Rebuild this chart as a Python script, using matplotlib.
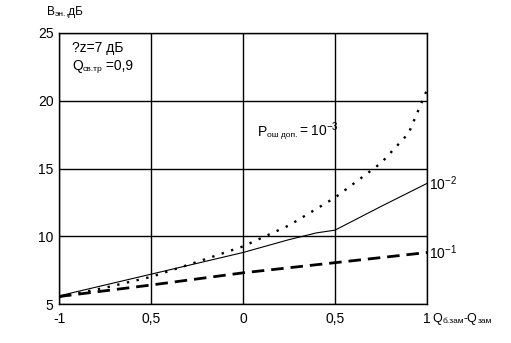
import numpy as np
import matplotlib
matplotlib.use("Agg")
from matplotlib import pyplot as plt

plt.rcParams['font.family'] = ['Liberation Sans', 'DejaVu Sans']
plt.rcParams['mathtext.fontset'] = 'custom'
plt.rcParams['mathtext.rm'] = 'Liberation Sans'

# Relative value Q_b.zam - Q_zam
x_pts = [-1, -0.75, -0.5, -0.25, 0, 0.25, 0.4, 0.5, 0.75, 1]
# P_osh.dop = 1e-3 (dotted)
x_dot = [-1, -0.75, -0.5, -0.25, 0, 0.25, 0.5, 0.75, 0.9, 1]
b_1e3 = [5.5, 6.2, 7.0, 8.1, 9.25, 10.8, 12.85, 15.4, 17.6, 20.8]
# P_osh.dop = 1e-2 (solid)
b_1e2 = [5.6, 6.4, 7.2, 8.0, 8.8, 9.75, 10.25, 10.45, 12.2, 13.9]
# P_osh.dop = 1e-1 (dashed)
x_dash = [-1, -0.5, 0, 0.5, 1]
b_1e1 = [5.55, 6.4, 7.3, 8.05, 8.8]

xticks = [-1, -0.5, 0, 0.5, 1]
xlabels = ['-1', '0,5', '0', '0,5', '1']
yticks = [5, 10, 15, 20, 25]


def chain(ax, parts, x, y):
    '''Write text pieces one after another, each with its own size.'''
    prev = None
    for s, size in parts:
        if prev is None:
            prev = ax.text(x, y, s, fontsize=size, transform=ax.transAxes,
                           ha='left', va='baseline')
        else:
            prev = ax.annotate(s, xy=(1, 0), xycoords=prev, fontsize=size,
                               ha='left', va='bottom')
    return prev


fig = plt.figure(figsize=(5.11, 3.43), dpi=100)
ax = fig.add_axes([59 / 511, 1 - 304 / 343, 368 / 511, 271 / 343])

ax.plot(x_dot, b_1e3, color='black', lw=1.7, linestyle=(0, (1, 3.2)))
ax.plot(x_pts, b_1e2, color='black', lw=0.8)
ax.plot(x_dash, b_1e1, color='black', lw=2.0, linestyle=(0, (4.5, 2.5)))

ax.set_xlim(-1, 1)
ax.set_ylim(5, 25)
ax.set_xticks(xticks)
ax.set_xticklabels(xlabels)
ax.set_yticks(yticks)
ax.tick_params(length=0, labelsize=10)
ax.tick_params(axis='x', pad=6)
ax.tick_params(axis='y', pad=4)
ax.grid(True, color='black', lw=1)
for sp in ax.spines.values():
    sp.set_linewidth(1)

# axis titles
chain(ax, [('В', 8.5), ('эн.', 6), (',дБ', 8.5)], -0.033, 1.066)
chain(ax, [('Q', 9), ('б.зам', 6), ('-Q', 9), ('зам', 6)], 1.015, -0.065)

# annotations
chain(ax, [('?z=7 дБ', 10)], 0.035, 0.93)
chain(ax, [('Q', 10), ('св.тр', 6), (' =0,9', 10)], 0.035, 0.865)
chain(ax, [('P', 10), ('ош доп.', 6), (r'$\mathregular{=10^{-3}}$', 10)], 0.54, 0.62)
ax.text(1.005, 13.9, r'$\mathregular{10^{-2}}$', fontsize=10, va='center',
        transform=ax.get_yaxis_transform(), ha='left')
ax.text(1.005, 8.8, r'$\mathregular{10^{-1}}$', fontsize=10, va='center',
        transform=ax.get_yaxis_transform(), ha='left')

plt.savefig('out.png', dpi=100)
